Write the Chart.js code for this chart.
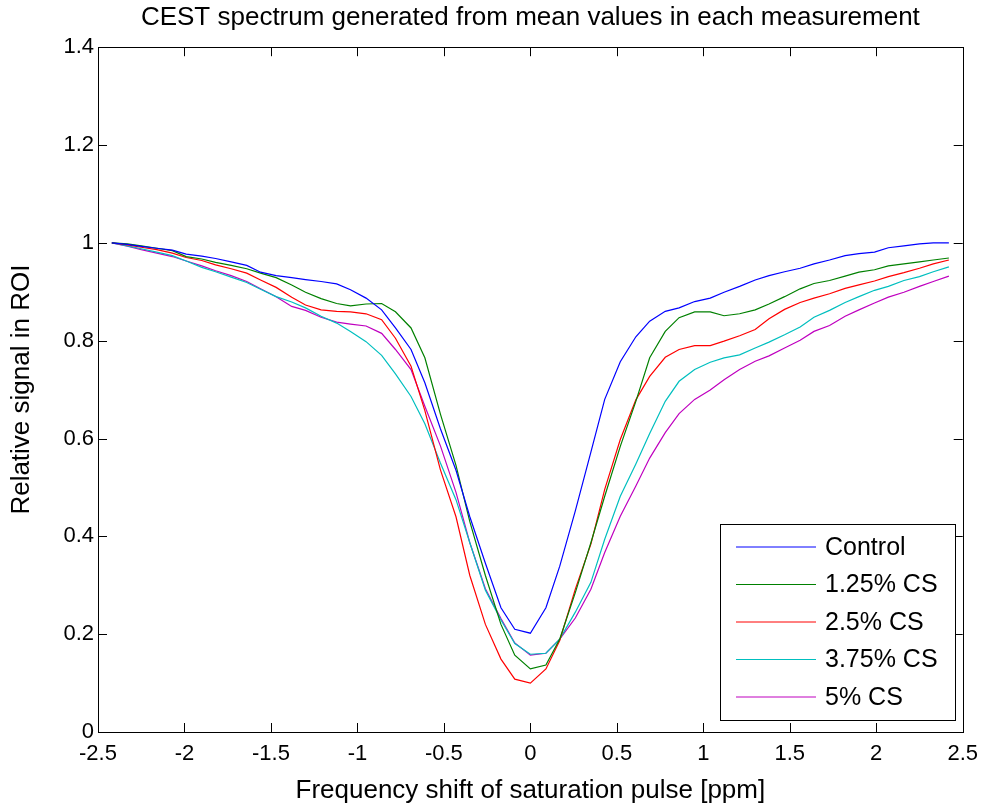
<!DOCTYPE html>
<html>
<head>
<meta charset="utf-8">
<script src="https://cdn.jsdelivr.net/npm/chart.js@4.4.1/dist/chart.umd.min.js"></script>
<style>
body{margin:0;background:#fff}
canvas{display:block}
</style>
</head>
<body>
<canvas id="cest" width="987" height="807"></canvas>
<script>
// frequency offsets (ppm)
const ppm = [-2.42,-2.33,-2.25,-2.16,-2.07,-1.99,-1.90,-1.82,-1.73,-1.64,-1.56,-1.47,-1.38,-1.30,-1.21,-1.12,-1.04,-0.95,-0.86,-0.78,-0.69,-0.61,-0.52,-0.43,-0.35,-0.26,-0.17,-0.09,0,
0.09,0.17,0.26,0.35,0.43,0.52,0.61,0.69,0.78,0.86,0.95,1.04,1.12,1.21,1.30,1.38,1.47,1.56,1.64,1.73,1.82,1.90,1.99,2.07,2.16,2.25,2.33,2.42]

const control = [1.0,0.997,0.993,0.989,0.985,0.977,0.973,0.968,0.961,0.954,0.940,0.933,0.929,0.925,0.921,0.916,0.904,0.887,0.863,0.826,0.782,0.714,0.62,0.535,0.44,0.345,0.254,0.21,0.202,
0.254,0.339,0.452,0.572,0.68,0.757,0.808,0.84,0.86,0.867,0.88,0.887,0.899,0.911,0.924,0.933,0.941,0.948,0.957,0.965,0.974,0.978,0.981,0.99,0.994,0.998,1.0,1.0]

const cs125 = [1.0,0.998,0.994,0.989,0.984,0.972,0.967,0.960,0.954,0.947,0.938,0.929,0.914,0.899,0.886,0.876,0.871,0.875,0.876,0.859,0.826,0.765,0.65,0.545,0.43,0.32,0.22,0.157,0.129,
0.137,0.19,0.285,0.387,0.482,0.584,0.676,0.765,0.819,0.847,0.859,0.859,0.851,0.855,0.863,0.875,0.890,0.906,0.917,0.923,0.932,0.940,0.945,0.953,0.957,0.961,0.965,0.969]

const cs25 = [1.0,0.996,0.991,0.986,0.979,0.970,0.964,0.955,0.947,0.938,0.924,0.909,0.889,0.873,0.863,0.860,0.859,0.855,0.843,0.805,0.748,0.657,0.536,0.44,0.32,0.22,0.149,0.108,0.10,
0.129,0.187,0.292,0.384,0.496,0.598,0.679,0.727,0.766,0.782,0.790,0.790,0.799,0.810,0.823,0.845,0.864,0.878,0.887,0.896,0.907,0.914,0.922,0.931,0.939,0.948,0.957,0.965]

const cs375 = [1.0,0.994,0.988,0.981,0.974,0.963,0.950,0.941,0.930,0.919,0.905,0.890,0.879,0.867,0.850,0.836,0.819,0.798,0.770,0.732,0.686,0.630,0.55,0.475,0.387,0.29,0.229,0.181,0.159,
0.161,0.19,0.245,0.306,0.394,0.482,0.548,0.61,0.676,0.717,0.741,0.756,0.765,0.771,0.785,0.797,0.812,0.828,0.848,0.862,0.878,0.890,0.903,0.911,0.923,0.931,0.941,0.951]

const cs5 = [1.0,0.993,0.986,0.979,0.972,0.963,0.953,0.943,0.933,0.921,0.906,0.890,0.870,0.862,0.848,0.838,0.834,0.830,0.815,0.782,0.741,0.666,0.585,0.49,0.387,0.293,0.232,0.182,0.157,
0.161,0.19,0.233,0.292,0.367,0.441,0.503,0.56,0.612,0.651,0.680,0.699,0.720,0.741,0.758,0.769,0.785,0.801,0.819,0.831,0.85,0.863,0.877,0.889,0.899,0.911,0.921,0.932]

const seriesNames = ["Control","1.25% CS","2.5% CS","3.75% CS","5% CS"]
const seriesColors = ["#0000ff","#008000","#ff0000","#00bfbf","#bf00bf"]
const xTicks = [-2.5,-2,-1.5,-1,-0.5,0,0.5,1,1.5,2,2.5]
const yTicks = [0,0.2,0.4,0.6,0.8,1,1.2,1.4]

const FONT = "'Liberation Sans', Arial, sans-serif"

function pts(vals){
  return ppm.map((x,i)=>({x:x,y:vals[i]}))
}

const allSeries = [control,cs125,cs25,cs375,cs5]

// box round the axes with ticks pointing inward on all four sides
const boxTicks = {
  id:"boxTicks",
  afterDatasetsDraw(chart){
    const {ctx,chartArea:a,scales} = chart
    const len = 9
    ctx.save()
    ctx.strokeStyle = "#000"
    ctx.lineWidth = 1
    ctx.beginPath()
    xTicks.forEach(v=>{
      let px = Math.round(scales.x.getPixelForValue(v))+0.5
      ctx.moveTo(px,a.bottom); ctx.lineTo(px,a.bottom-len)
      ctx.moveTo(px,a.top); ctx.lineTo(px,a.top+len)
    })
    yTicks.forEach(v=>{
      let py = Math.round(scales.y.getPixelForValue(v))+0.5
      ctx.moveTo(a.left,py); ctx.lineTo(a.left+len,py)
      ctx.moveTo(a.right,py); ctx.lineTo(a.right-len,py)
    })
    ctx.stroke()
    ctx.strokeRect(Math.round(a.left)+0.5,Math.round(a.top)+0.5,Math.round(a.right-a.left),Math.round(a.bottom-a.top))
    ctx.restore()
  }
}

// legend box in the lower right corner of the axes
const boxLegend = {
  id:"boxLegend",
  afterDraw(chart){
    const ctx = chart.ctx
    const x0 = 720.5, y0 = 524.5, w = 235, h = 196
    ctx.save()
    ctx.fillStyle = "#fff"
    ctx.fillRect(x0,y0,w,h)
    ctx.strokeStyle = "#000"
    ctx.lineWidth = 1
    ctx.strokeRect(x0,y0,w,h)
    ctx.font = "25px " + FONT
    ctx.textBaseline = "middle"
    chart.data.datasets.forEach((ds,i)=>{
      let y = 547 + i*37.5
      ctx.strokeStyle = ds.borderColor
      ctx.beginPath()
      ctx.moveTo(736,y); ctx.lineTo(816,y)
      ctx.stroke()
      ctx.fillStyle = "#000"
      ctx.fillText(ds.label,825,y+1)
    })
    ctx.restore()
  }
}

new Chart(document.getElementById("cest"),{
  type:"line",
  data:{
    datasets: seriesNames.map((name,i)=>({
      label:name,
      data:pts(allSeries[i]),
      borderColor:seriesColors[i],
      backgroundColor:seriesColors[i],
      borderWidth:1.2,
      pointRadius:0,
      fill:false,
      tension:0
    }))
  },
  options:{
    responsive:false,
    animation:false,
    layout:{padding:{left:0,right:21,top:0,bottom:0}},
    plugins:{
      legend:{display:false},
      tooltip:{enabled:false},
      title:{
        display:true,
        fullSize:false,
        text:"CEST spectrum generated from mean values in each measurement",
        color:"#000",
        font:{family:FONT,size:26,weight:"normal"},
        padding:{top:2,bottom:14}
      }
    },
    scales:{
      x:{
        type:"linear",
        min:-2.5,max:2.5,
        afterBuildTicks:s=>{s.ticks = xTicks.map(v=>({value:v}))},
        afterFit:s=>{s.height = 75},
        grid:{display:false,drawTicks:false},
        border:{display:false},
        ticks:{color:"#000",font:{family:FONT,size:22},padding:9,maxRotation:0,autoSkip:false,
          callback:v=>String(v)},
        title:{display:true,text:"Frequency shift of saturation pulse [ppm]",color:"#000",
          font:{family:FONT,size:26},padding:{top:0,bottom:1}}
      },
      y:{
        min:0,max:1.4,
        afterBuildTicks:s=>{s.ticks = yTicks.map(v=>({value:v}))},
        afterFit:s=>{s.width = 98},
        grid:{display:false,drawTicks:false},
        border:{display:false},
        ticks:{color:"#000",font:{family:FONT,size:22},padding:4,autoSkip:false,
          callback:v=>String(v)},
        title:{display:true,text:"Relative signal in ROI",color:"#000",
          font:{family:FONT,size:26},padding:{top:6,bottom:0}}
      }
    }
  },
  plugins:[boxTicks,boxLegend]
})
</script>
</body>
</html>
